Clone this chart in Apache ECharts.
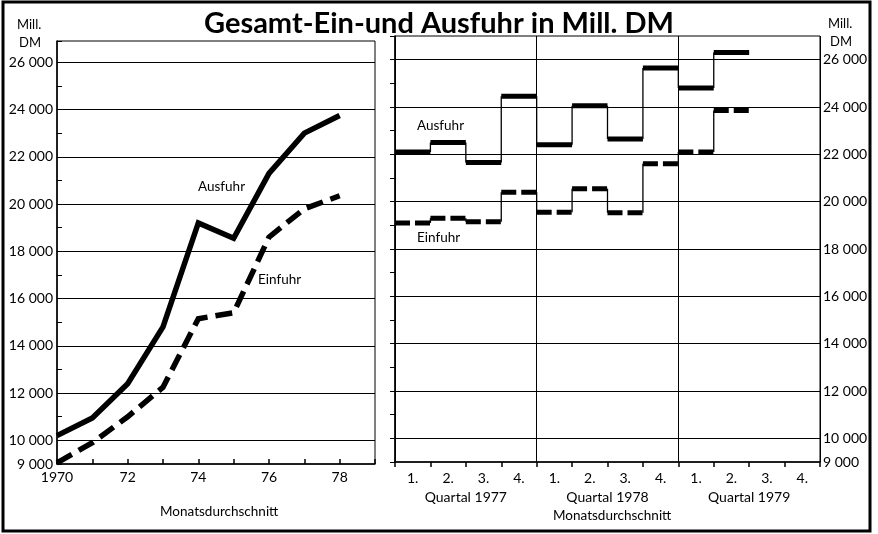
<!DOCTYPE html>
<html>
<head>
<meta charset="utf-8">
<script src="https://cdn.jsdelivr.net/npm/echarts@6/dist/echarts.min.js"></script>
<style>
html,body{margin:0;padding:0;background:#fff;}
#main{width:878px;height:534px;}
</style>
</head>
<body>
<div id="main"></div>
<script>
// Jahreswerte (Monatsdurchschnitt, Mill. DM)
var years = [1970, 1971, 1972, 1973, 1974, 1975, 1976, 1977, 1978];
var ausfuhrJahr = [10200, 10950, 12400, 14800, 19200, 18550, 21300, 23000, 23750];
var einfuhrJahr = [9050, 9900, 11000, 12250, 15150, 15400, 18600, 19800, 20350];

// Quartalswerte 1977 - 1979
var quartale = ['1.', '2.', '3.', '4.', '1.', '2.', '3.', '4.', '1.', '2.', '3.', '4.'];
var quartalJahre = ['Quartal 1977', 'Quartal 1978', 'Quartal 1979'];
var ausfuhrQuartal = [22100, 22500, 21650, 24450, 22400, 24050, 22650, 25650, 24800, 26300];
var einfuhrQuartal = [19100, 19300, 19150, 20400, 19550, 20550, 19530, 21600, 22100, 23850];

var font = 'Lato';

function fmt(v) {
    var s = String(v);
    return s.slice(0, s.length - 3) + ' ' + s.slice(-3);
}
function yLabel(v) {
    if (v % 2000 === 0 || v === 9000) return fmt(v);
    return '';
}

// [Quartal, Wert, Wert des naechsten Quartals]
function quartalsDaten(werte) {
    return werte.map(function (v, i) {
        return [i, v, i + 1 < werte.length ? werte[i + 1] : v];
    });
}

// dicker waagerechter Balken je Quartal + duenne senkrechte Verbindung
function treppe(dash) {
    return function (params, api) {
        var i = api.value(0), v = api.value(1), n = api.value(2);
        var p0 = api.coord([i, v]), p1 = api.coord([i + 1, v]), p2 = api.coord([i + 1, n]);
        return {
            type: 'group',
            children: [
                {
                    type: 'line',
                    shape: { x1: p1[0], y1: p1[1], x2: p2[0], y2: p2[1] },
                    style: { stroke: '#000', lineWidth: 1.3 }
                },
                {
                    type: 'line',
                    shape: { x1: p0[0], y1: p0[1], x2: p1[0], y2: p1[1] },
                    style: { stroke: '#000', lineWidth: 5, lineDash: dash, lineCap: 'butt' }
                }
            ]
        };
    };
}

var myChart = echarts.init(document.getElementById('main'));

var option = {
    animation: false,
    backgroundColor: '#fff',
    textStyle: { fontFamily: font, color: '#000' },
    title: {
        text: 'Gesamt-Ein-und Ausfuhr in Mill. DM',
        left: 'center',
        top: 4,
        textStyle: { fontFamily: font, fontSize: 29, fontWeight: 'bold', color: '#000' }
    },
    grid: [
        { left: 57, top: 41, width: 318, height: 423, show: true, borderColor: '#000', borderWidth: 1 },
        { left: 395, top: 36, width: 425, height: 426, show: true, borderColor: '#000', borderWidth: 1 }
    ],
    xAxis: [
        {
            gridIndex: 0, type: 'value', min: 1970, max: 1979, interval: 1,
            axisLine: { lineStyle: { color: '#000', width: 1.5 } },
            axisTick: { inside: true, length: 5, lineStyle: { color: '#000', width: 1.5 } },
            splitLine: { show: false },
            axisLabel: {
                color: '#000', fontSize: 14, margin: 6,
                formatter: function (v) {
                    if (v === 1970) return '1970';
                    if (v % 2 === 0 && v < 1979) return String(v).slice(2);
                    return '';
                }
            }
        },
        {
            gridIndex: 1, type: 'value', min: 0, max: 12, interval: 1,
            axisLine: { lineStyle: { color: '#000', width: 1.5 } },
            axisTick: { inside: false, length: 5, lineStyle: { color: '#000', width: 1.5 } },
            axisLabel: { show: false },
            splitLine: { show: false }
        },
        {
            gridIndex: 1, type: 'category', data: quartale, position: 'bottom',
            boundaryGap: true,
            axisLine: { show: false }, axisTick: { show: false },
            splitLine: { show: false },
            axisLabel: { color: '#000', fontSize: 14, margin: 9 }
        },
        {
            gridIndex: 1, type: 'category', data: quartalJahre, position: 'bottom',
            boundaryGap: true,
            axisLine: { show: false }, axisTick: { show: false },
            splitLine: { show: true, lineStyle: { color: '#000', width: 1 } },
            axisLabel: { color: '#000', fontSize: 14, margin: 28 }
        }
    ],
    yAxis: [
        {
            gridIndex: 0, type: 'value', min: 9000, max: 26900, interval: 1000,
            axisLine: { show: true, lineStyle: { color: '#000', width: 1.5 } },
            axisTick: { show: true, inside: true, length: 5, lineStyle: { color: '#000' } },
            splitLine: { show: true, lineStyle: { color: ['rgba(0,0,0,0)', '#000'], width: 1 } },
            axisLabel: { color: '#000', fontSize: 14, margin: 4, formatter: yLabel }
        },
        {
            gridIndex: 1, type: 'value', position: 'right', min: 9000, max: 27000, interval: 1000,
            axisLine: { show: true, lineStyle: { color: '#000', width: 1.5 } },
            axisTick: { show: true, inside: true, length: 5, lineStyle: { color: '#000' } },
            splitLine: { show: true, lineStyle: { color: ['rgba(0,0,0,0)', '#000'], width: 1 } },
            axisLabel: { color: '#000', fontSize: 14, margin: 3, formatter: yLabel }
        }
    ],
    series: [
        {
            name: 'Ausfuhr', type: 'line', xAxisIndex: 0, yAxisIndex: 0,
            data: years.map(function (y, i) { return [y, ausfuhrJahr[i]]; }),
            showSymbol: false, symbol: 'none',
            lineStyle: { color: '#000', width: 5.5, cap: 'butt', join: 'miter' }
        },
        {
            name: 'Einfuhr', type: 'line', xAxisIndex: 0, yAxisIndex: 0,
            data: years.map(function (y, i) { return [y, einfuhrJahr[i]]; }),
            showSymbol: false, symbol: 'none',
            lineStyle: { color: '#000', width: 5.5, type: [17, 8], cap: 'butt', join: 'miter' }
        },
        {
            name: 'Ausfuhr Q', type: 'custom', xAxisIndex: 1, yAxisIndex: 1,
            data: quartalsDaten(ausfuhrQuartal),
            encode: { x: 0, y: 1 },
            renderItem: treppe(null)
        },
        {
            name: 'Einfuhr Q', type: 'custom', xAxisIndex: 1, yAxisIndex: 1,
            data: quartalsDaten(einfuhrQuartal),
            encode: { x: 0, y: 1 },
            renderItem: treppe([15, 5])
        }
    ],
    graphic: [
        { type: 'rect', shape: { x: 3, y: 2, width: 867, height: 529 },
          style: { fill: 'none', stroke: '#000', lineWidth: 3 } },
        { type: 'text', left: 17, top: 18, style: { text: 'Mill.', font: '13px ' + font, fill: '#000' } },
        { type: 'text', left: 19, top: 36, style: { text: 'DM', font: '13px ' + font, fill: '#000' } },
        { type: 'text', left: 828, top: 17, style: { text: 'Mill.', font: '13px ' + font, fill: '#000' } },
        { type: 'text', left: 830, top: 35, style: { text: 'DM', font: '13px ' + font, fill: '#000' } },
        { type: 'text', left: 198, top: 180, style: { text: 'Ausfuhr', font: '13.5px ' + font, fill: '#000' } },
        { type: 'text', left: 258, top: 273, style: { text: 'Einfuhr', font: '13.5px ' + font, fill: '#000' } },
        { type: 'text', left: 417, top: 119, style: { text: 'Ausfuhr', font: '13.5px ' + font, fill: '#000' } },
        { type: 'text', left: 417, top: 231, style: { text: 'Einfuhr', font: '13.5px ' + font, fill: '#000' } },
        { type: 'text', left: 160, top: 505, style: { text: 'Monatsdurchschnitt', font: '13.5px ' + font, fill: '#000' } },
        { type: 'text', left: 553, top: 509, style: { text: 'Monatsdurchschnitt', font: '13.5px ' + font, fill: '#000' } }
    ]
};

myChart.setOption(option);
</script>
</body>
</html>
